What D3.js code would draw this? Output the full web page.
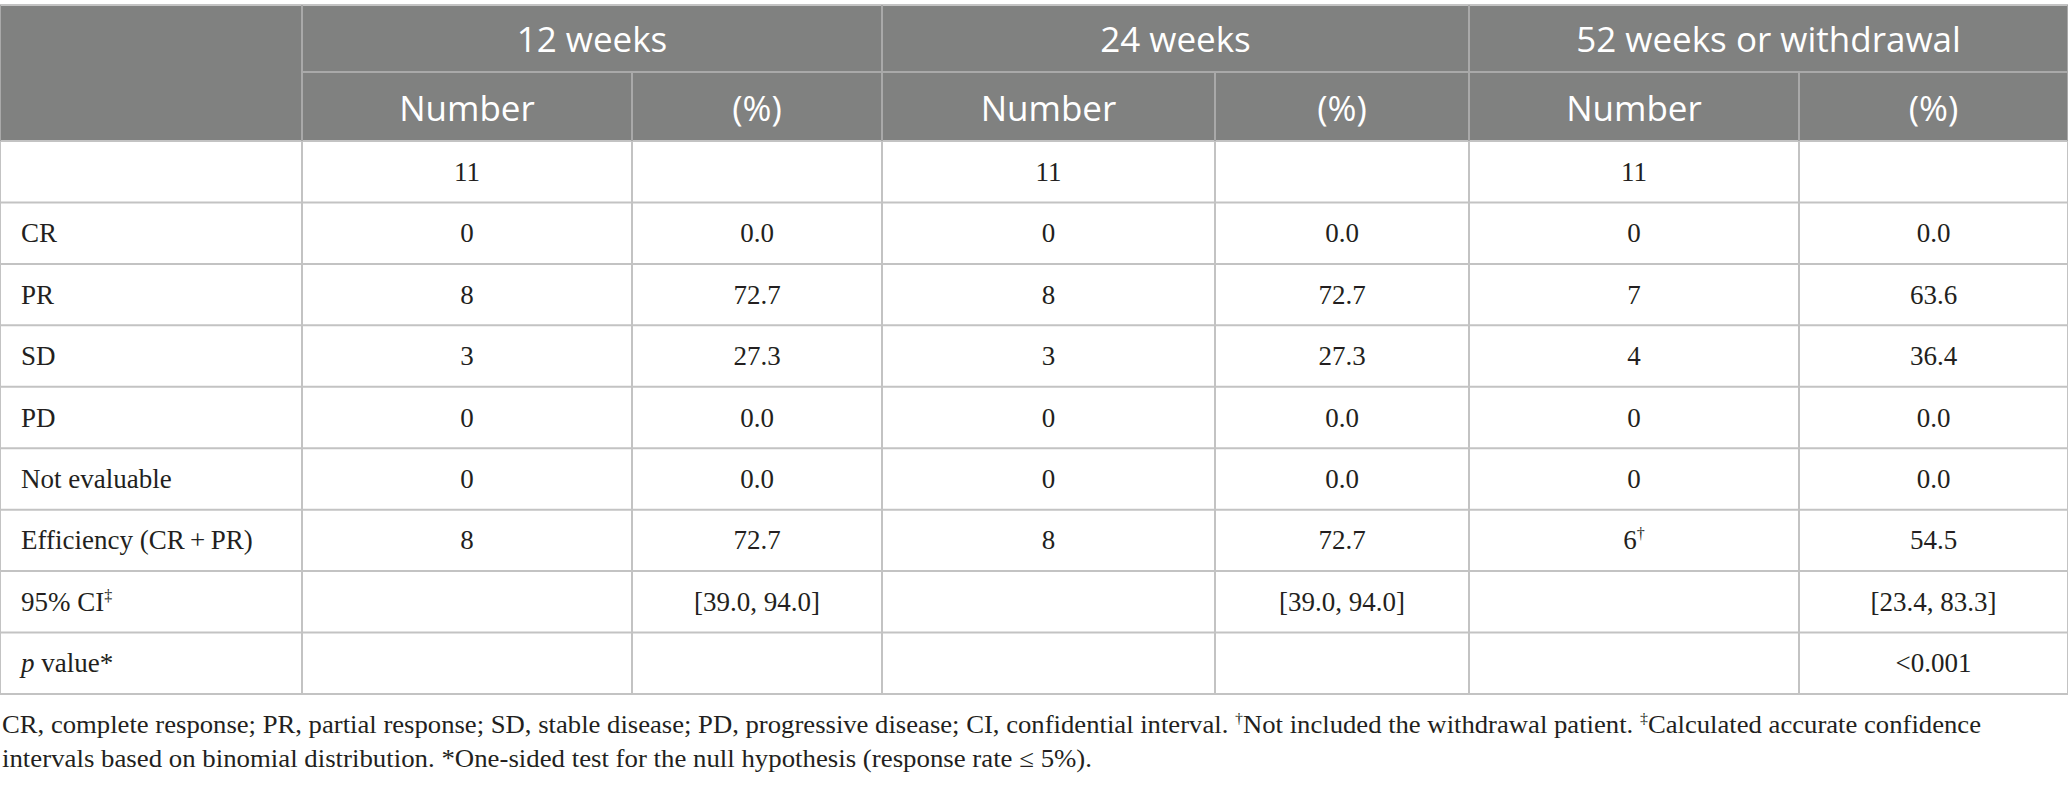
<!DOCTYPE html>
<html>
<head>
<meta charset="utf-8">
<script src="https://cdn.jsdelivr.net/npm/d3@7/dist/d3.min.js"></script>
<style>
  body { margin: 0; background: #fff; }
</style>
</head>
<body>
<script>
// table content
var timepoints = ["12 weeks", "24 weeks", "52 weeks or withdrawal"];
var subHeaders = ["Number", "(%)"];
var rowLabels = ["", "CR", "PR", "SD", "PD", "Not evaluable", "Efficiency (CR\u2009+\u2009PR)", "95% CI", "value*"];
var labelMarks = ["", "", "", "", "", "", "", "\u2021", ""];

var number12 = ["11", "0", "8", "3", "0", "0", "8", "", ""];
var percent12 = [null, 0.0, 72.7, 27.3, 0.0, 0.0, 72.7, "[39.0, 94.0]", ""];
var number24 = ["11", "0", "8", "3", "0", "0", "8", "", ""];
var percent24 = [null, 0.0, 72.7, 27.3, 0.0, 0.0, 72.7, "[39.0, 94.0]", ""];
var number52 = ["11", "0", "7", "4", "0", "0", "6", "", ""];
var numberMarks52 = ["", "", "", "", "", "", "\u2020", "", ""];
var percent52 = [null, 0.0, 63.6, 36.4, 0.0, 0.0, 54.5, "[23.4, 83.3]", "<0.001"];

var footnotes = [
  [["CR, complete response; PR, partial response; SD, stable disease; PD, progressive disease; CI, confidential interval. ", false],
   ["\u2020", true], ["Not included the withdrawal patient. ", false],
   ["\u2021", true], ["Calculated accurate confidence", false]],
  [["intervals based on binomial distribution. *One-sided test for the null hypothesis (response rate \u2264 5%).", false]]
];

// layout
var width = 2068, height = 786;
var colEdges = [0, 302, 632, 882, 1215, 1469, 1799, 2068];
var headTop = 5, headMid = 72, headBottom = 141, tableBottom = 694;

var head_col = "#808180",
    line_col = "#c3c3c3",
    text_col = "#231f20";

var fmt = d3.format(".1f");
function cell(v) { return (v === null || v === "") ? "" : (typeof v === "number" ? fmt(v) : v); }

var columns = [
  {vals: number12}, {vals: percent12},
  {vals: number24}, {vals: percent24},
  {vals: number52, marks: numberMarks52}, {vals: percent52}
];

var y = d3.scaleBand()
    .domain(d3.range(rowLabels.length))
    .range([headBottom, tableBottom]);

var svg = d3.select("body").append("svg")
    .attr("width", width)
    .attr("height", height);

// header background
svg.append("rect")
    .attr("x", 0).attr("y", headTop)
    .attr("width", width).attr("height", headBottom - headTop)
    .style("fill", head_col);

var sans = "'Open Sans', 'Noto Sans', sans-serif",
    serif = "'Liberation Serif', 'DejaVu Serif', serif";

// timepoint headers
svg.append("g").selectAll("text")
    .data(timepoints)
    .join("text")
    .attr("x", function(d, i) { return (colEdges[1 + i * 2] + colEdges[3 + i * 2]) / 2; })
    .attr("y", (headTop + headMid) / 2 + 13)
    .attr("text-anchor", "middle")
    .attr("font-family", sans)
    .attr("font-size", "35px")
    .attr("fill", "#fff")
    .text(function(d) { return d; });

// sub headers
svg.append("g").selectAll("text")
    .data(d3.range(6))
    .join("text")
    .attr("x", function(i) { return (colEdges[1 + i] + colEdges[2 + i]) / 2; })
    .attr("y", (headMid + headBottom) / 2 + 14)
    .attr("text-anchor", "middle")
    .attr("font-family", sans)
    .attr("font-size", "35px")
    .attr("fill", "#fff")
    .text(function(i) { return subHeaders[i % 2]; });

// body row labels
var lab = svg.append("g").selectAll("text")
    .data(rowLabels)
    .join("text")
    .attr("x", 21)
    .attr("y", function(d, i) { return y(i) + y.bandwidth() / 2 + 9; })
    .attr("font-family", serif)
    .attr("font-size", "27px")
    .attr("fill", text_col);

lab.each(function(d, i) {
    var t = d3.select(this);
    if (i === rowLabels.length - 1) {
        t.append("tspan").attr("font-style", "italic").text("p ");
    }
    t.append("tspan").text(d);
    if (labelMarks[i]) {
        t.append("tspan").attr("font-size", "16px").attr("dy", -10).text(labelMarks[i]);
    }
});

// body cells
columns.forEach(function(col, c) {
    var cx = (colEdges[1 + c] + colEdges[2 + c]) / 2;
    svg.append("g").selectAll("text")
        .data(col.vals)
        .join("text")
        .attr("x", cx)
        .attr("y", function(d, i) { return y(i) + y.bandwidth() / 2 + 9; })
        .attr("text-anchor", "middle")
        .attr("font-family", serif)
        .attr("font-size", "27px")
        .attr("fill", text_col)
        .each(function(d, i) {
            var t = d3.select(this);
            t.append("tspan").text(cell(d));
            if (col.marks && col.marks[i]) {
                t.append("tspan").attr("font-size", "16px").attr("dy", -10).text(col.marks[i]);
            }
        });
});

// grid lines
var grid = svg.append("g").style("stroke", line_col).style("stroke-width", 2);

// horizontal: top, header bottom, each body row
var hLines = [headTop, headBottom].concat(d3.range(rowLabels.length).map(function(i) { return y(i) + y.bandwidth(); }));
grid.selectAll(".h")
    .data(hLines)
    .join("line")
    .attr("x1", 0).attr("x2", width)
    .attr("y1", function(d) { return d; }).attr("y2", function(d) { return d; });

grid.append("line")
    .attr("x1", colEdges[1]).attr("x2", width)
    .attr("y1", headMid).attr("y2", headMid)
    .style("stroke", "#a9a9a9");

// vertical lines in the header (sub-column lines start below the timepoint row)
grid.selectAll(".v")
    .data(colEdges)
    .join("line")
    .attr("x1", function(d) { return d; }).attr("x2", function(d) { return d; })
    .attr("y1", function(d, i) { return (i % 2 === 0 && i > 1 && i < 7) ? headMid : headTop; })
    .attr("y2", headBottom)
    .style("stroke", "#a9a9a9");

// body vertical lines
grid.selectAll(".vb")
    .data(colEdges)
    .join("line")
    .attr("x1", function(d) { return d; }).attr("x2", function(d) { return d; })
    .attr("y1", headBottom).attr("y2", tableBottom);

// footnotes
var foot = svg.append("g").selectAll("text")
    .data(footnotes)
    .join("text")
    .attr("x", 2)
    .attr("y", function(d, i) { return 733 + i * 34; })
    .attr("font-family", serif)
    .attr("font-size", "25px")
    .attr("fill", text_col);

foot.each(function(parts) {
    var t = d3.select(this);
    parts.forEach(function(p) {
        var s = t.append("tspan").text(p[0]);
        if (p[1]) s.attr("font-size", "15px").attr("dy", -10);
        else if (t.selectAll("tspan").size() > 1) s.attr("dy", 10);
    });
});
// squeeze footnote lines to the printed widths
foot.filter(function(d, i) { return i === 0; }).attr("textLength", 1979).attr("lengthAdjust", "spacingAndGlyphs");
foot.filter(function(d, i) { return i === 1; }).attr("textLength", 1090).attr("lengthAdjust", "spacingAndGlyphs");
</script>
</body>
</html>
